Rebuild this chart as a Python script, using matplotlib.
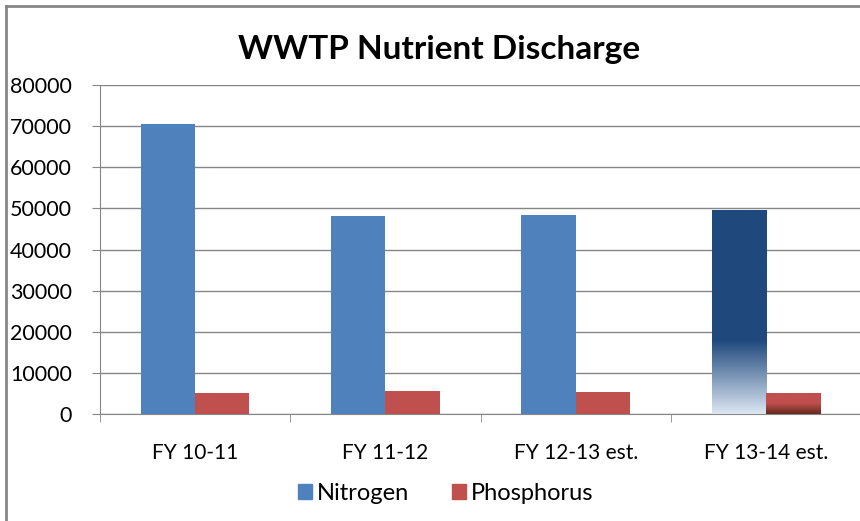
import matplotlib.pyplot as plt
import matplotlib.colors as mcolors
from matplotlib.lines import Line2D
from matplotlib.patches import Patch
import numpy as np

plt.rcParams['font.family'] = ['Lato', 'DejaVu Sans']

# data
years = ["FY 10-11", "FY 11-12", "FY 12-13 est.", "FY 13-14 est."]
nitrogen = [70400, 48200, 48400, 49700]
phosphorus = [5200, 5500, 5300, 5200]
yticks = [0, 10000, 20000, 30000, 40000, 50000, 60000, 70000, 80000]

blue = "#4F81BD"
red = "#C0504D"
grey = "#868686"


def gradient_fill(ax, bar, stops):
    # paint a vertical colour ramp inside a bar (0 = bottom, 1 = top)
    x, y = bar.get_x(), bar.get_y()
    w, h = bar.get_width(), bar.get_height()
    cmap = mcolors.LinearSegmentedColormap.from_list("g", stops)
    ramp = np.linspace(0, 1, 256).reshape(-1, 1)
    im = ax.imshow(ramp, cmap=cmap, extent=[x, x + w, y, y + h], origin="lower",
                   aspect="auto", zorder=3, interpolation="bicubic")
    im.set_clip_path(bar)
    bar.set_facecolor("none")


fig = plt.figure(figsize=(8.6, 5.21), dpi=100)
ax = fig.add_axes([100 / 860, 1 - 414 / 521, 761 / 860, 329 / 521])

x = np.arange(len(years))
w = 0.285
nb = ax.bar(x - w / 2, nitrogen, w, color=blue, zorder=3)
pb = ax.bar(x + w / 2, phosphorus, w, color=red, zorder=3)

# last group has gradient fills
gradient_fill(ax, nb[-1], [(0, "#DCE6F2"), (0.36, "#1F497D"), (1, "#1F497D")])
gradient_fill(ax, pb[-1], [(0, "#632A1E"), (0.5, red), (1, red)])

ax.set_xlim(-0.5, len(years) - 0.5)
ax.set_ylim(0, 80000)
ax.set_yticks(yticks)
ax.set_yticklabels([str(v) for v in yticks])
ax.yaxis.grid(True, color=grey, lw=1)
ax.set_axisbelow(True)

ax.set_xticks(x)
ax.set_xticklabels(years)
ax.set_xticks(np.arange(len(years) + 1) - 0.5, minor=True)
ax.tick_params(axis="x", which="major", length=0, pad=21, labelsize=15)
ax.tick_params(axis="x", which="minor", length=6, color=grey, direction="out")
ax.tick_params(axis="y", length=6, color=grey, pad=14, labelsize=15.5)

for s in ["top", "right"]:
    ax.spines[s].set_visible(False)
for s in ["left", "bottom"]:
    ax.spines[s].set_color(grey)

fig.text(0.511, 1 - 50 / 521, "WWTP Nutrient Discharge", ha="center", va="center",
         fontsize=24, fontweight="bold")

handles = [Patch(color=blue, label="Nitrogen"), Patch(color=red, label="Phosphorus")]
fig.legend(handles=handles, loc="center", bbox_to_anchor=(0.518, 1 - 493 / 521),
           ncol=2, frameon=False, fontsize=17, handlelength=0.6, handleheight=0.6,
           handletextpad=0.2, columnspacing=1.8)

# outer chart border (only top and left show in the crop)
fig.add_artist(Line2D([6 / 860, 1], [1 - 6 / 521, 1 - 6 / 521], color=grey, lw=2))
fig.add_artist(Line2D([6 / 860, 6 / 860], [0, 1 - 6 / 521], color=grey, lw=2))

fig.savefig("out.png", dpi=100)
